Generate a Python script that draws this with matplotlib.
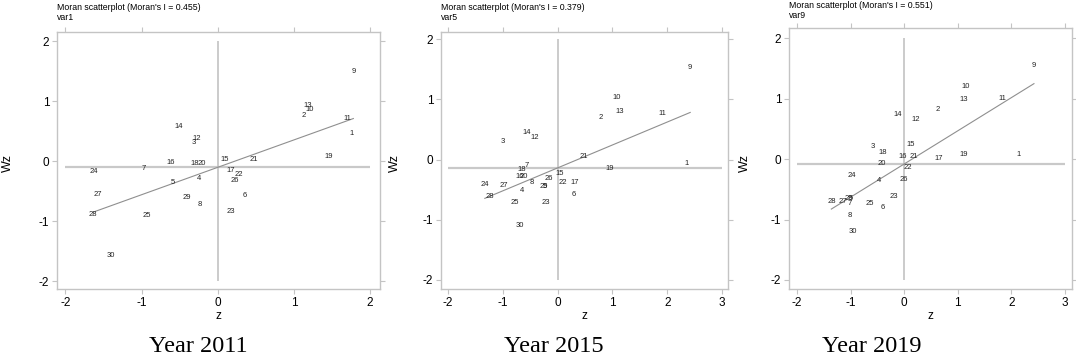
import matplotlib
matplotlib.use("Agg")
import matplotlib.pyplot as plt
import numpy as np

plt.rcParams["font.family"] = ["Liberation Sans Narrow", "Liberation Sans", "DejaVu Sans"]

IDS = list(range(1, 31))

# 2011
Z_2011 = [1.76, 1.13, -0.32, -0.25, -0.59, 0.35, -0.97, -0.24, 1.78, 1.21,
          1.70, -0.27, 1.18, -0.51, 0.09, -0.62, 0.17, -0.30, 1.46, -0.21,
          0.47, 0.28, 0.17, -1.62, -0.93, 0.23, -1.58, -1.64, -0.40, -1.40]
WZ_2011 = [0.41, 0.72, 0.26, -0.33, -0.40, -0.62, -0.16, -0.77, 1.45, 0.82,
           0.67, 0.34, 0.88, 0.54, -0.01, -0.06, -0.20, -0.08, 0.04, -0.08,
           -0.01, -0.27, -0.88, -0.21, -0.95, -0.36, -0.60, -0.93, -0.65, -1.61]

# 2015
Z_2015 = [2.36, 0.79, -1.00, -0.66, -0.24, 0.30, -0.56, -0.48, 2.42, 1.08,
          1.92, -0.41, 1.13, -0.56, 0.04, -0.70, 0.32, -0.65, 0.95, -0.61,
          0.48, 0.10, -0.21, -1.33, -0.78, -0.17, -0.99, -1.24, -0.26, -0.69]
WZ_2015 = [-0.11, 0.66, 0.25, -0.55, -0.49, -0.63, -0.14, -0.42, 1.49, 0.98,
           0.72, 0.33, 0.76, 0.40, -0.28, -0.33, -0.42, -0.21, -0.19, -0.33,
           0.00, -0.42, -0.76, -0.45, -0.75, -0.35, -0.48, -0.65, -0.49, -1.14]

# 2019
Z_2019 = [2.14, 0.63, -0.59, -0.47, -0.99, -0.40, -1.02, -1.01, 2.42, 1.15,
          1.84, 0.22, 1.11, -0.12, 0.13, -0.03, 0.65, -0.40, 1.11, -0.42,
          0.17, 0.07, -0.20, -0.98, -0.65, -0.01, -1.15, -1.36, -1.03, -0.95]
WZ_2019 = [0.03, 0.78, 0.16, -0.39, -0.69, -0.85, -0.78, -0.98, 1.50, 1.16,
           0.96, 0.61, 0.94, 0.69, 0.19, 0.00, -0.04, 0.06, 0.04, -0.11,
           0.00, -0.19, -0.67, -0.31, -0.78, -0.38, -0.74, -0.75, -0.70, -1.24]

MORAN_I = [0.455, 0.379, 0.551]
VAR_NAMES = ["var1", "var5", "var9"]
YEARS = ["Year 2011", "Year 2015", "Year 2019"]
XTICKS = [[-2, -1, 0, 1, 2], [-2, -1, 0, 1, 2, 3], [-2, -1, 0, 1, 2, 3]]
YTICKS = [-2, -1, 0, 1, 2]

BOX = "#c4c4c4"
REF = "#c9c9c9"
FIT = "#8f8f8f"
W, H = 1076, 364

# pixel boxes: left, top, right, bottom
PANELS = [(57, 32, 380, 289), (441, 32, 728, 289), (789, 28, 1072, 289)]
XLIMS = [(-2.11, 2.13), (-2.13, 3.11), (-2.15, 3.13)]
YLIMS = [(-2.13, 2.15), (-2.15, 2.12), (-2.15, 2.17)]
YEAR_X = [198, 554, 872]
WZ_X = [8, 395, 745]

fig = plt.figure(figsize=(W / 100, H / 100), dpi=100, facecolor="white")

data = [(Z_2011, WZ_2011), (Z_2015, WZ_2015), (Z_2019, WZ_2019)]
for k, (z, wz) in enumerate(data):
    z = np.array(z)
    wz = np.array(wz)
    l, t, r, b = PANELS[k]
    ax = fig.add_axes((l / W, 1 - b / H, (r - l) / W, (b - t) / H))
    ax.set_xlim(*XLIMS[k])
    ax.set_ylim(*YLIMS[k])

    xt = XTICKS[k]
    ax.hlines(wz.mean(), xt[0], xt[-1], color=REF, lw=1.6, zorder=1)
    ax.vlines(z.mean(), YTICKS[0], YTICKS[-1], color="#bdbdbd", lw=1.1, zorder=1)

    slope, icpt = np.polyfit(z, wz, 1)
    xs = np.array([z.min(), z.max()])
    ax.plot(xs, icpt + slope * xs, color=FIT, lw=0.8, zorder=2)

    for i, zi, wi in zip(IDS, z, wz):
        ax.annotate(str(i), (zi, wi), xytext=(0, 1.9), textcoords="offset points",
                    ha="center", va="center", fontsize=5.5, color="#222222", zorder=3)

    ax.set_xticks(xt)
    ax.set_yticks(YTICKS)
    ax.set_xticklabels([str(v) for v in xt])
    ax.set_yticklabels([str(v) for v in YTICKS])
    ax.tick_params(direction="out", length=3.5, width=0.8, color=BOX,
                   labelsize=8.5, pad=2, top=True, right=True,
                   labeltop=False, labelright=False)
    for s in ax.spines.values():
        s.set_color(BOX)
        s.set_linewidth(1.0)

    ax.set_xlabel("z", fontsize=8.5, labelpad=1)
    fig.text(WZ_X[k] / W, 1 - 163 / H, "Wz", rotation=90, fontsize=9,
             ha="center", va="center")

    ty = 7 if k < 2 else 5
    fig.text(l / W, 1 - ty / H, f"Moran scatterplot (Moran's I = {MORAN_I[k]:.3f})",
             fontsize=6.3, ha="left", va="center")
    fig.text(l / W, 1 - (ty + 11) / H, VAR_NAMES[k], fontsize=6.3, ha="left", va="center")

    fig.text(YEAR_X[k] / W, 1 - 347 / H, YEARS[k], fontsize=17.5,
             family=["Liberation Serif", "DejaVu Serif"], ha="center", va="center")

fig.savefig("out.png", dpi=100, facecolor="white")
